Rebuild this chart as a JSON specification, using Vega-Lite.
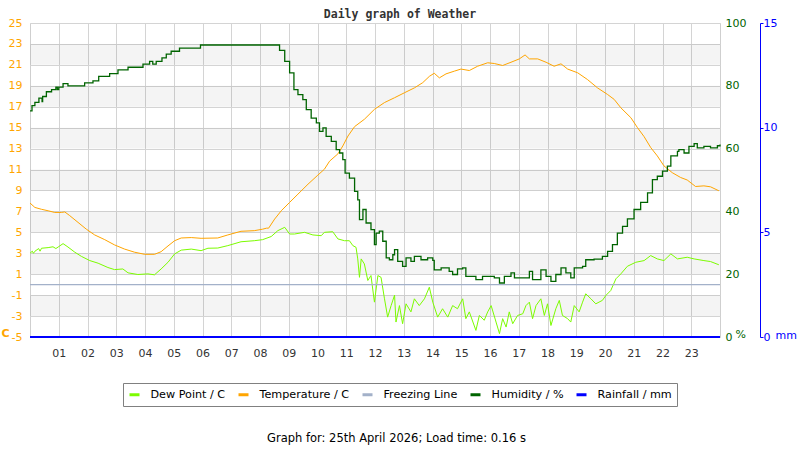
{
  "$schema": "https://vega.github.io/schema/vega-lite/v6.json",
  "description": "Daily weather graph: temperature, dew point, humidity, rainfall",
  "width": 690,
  "height": 314,
  "autosize": {"type": "none"},
  "padding": {"left": 30, "top": 23, "right": 80, "bottom": 113},
  "title": {
    "text": "Daily graph of Weather",
    "font": "DejaVu Sans Mono",
    "fontWeight": "bold",
    "fontSize": 11.5,
    "color": "#333333",
    "offset": -3,
    "dx": 25
  },
  "datasets": {
    "bands": [
      {"lo": 21, "hi": 23}, {"lo": 17, "hi": 19}, {"lo": 13, "hi": 15}, {"lo": 9, "hi": 11},
      {"lo": 5, "hi": 7}, {"lo": 1, "hi": 3}, {"lo": -3, "hi": -1}
    ],
    "dew": [
      {"h": 0.0, "v": 3.0}, {"h": 0.08, "v": 3.2}, {"h": 0.12, "v": 3.0}, {"h": 0.17, "v": 3.19}, {"h": 0.3, "v": 3.45},
      {"h": 0.35, "v": 3.2}, {"h": 0.4, "v": 3.48}, {"h": 0.63, "v": 3.54}, {"h": 0.8, "v": 3.62}, {"h": 0.9, "v": 3.45},
      {"h": 0.98, "v": 3.6}, {"h": 1.15, "v": 3.92}, {"h": 1.32, "v": 3.6}, {"h": 1.56, "v": 3.1}, {"h": 1.79, "v": 2.7},
      {"h": 2.08, "v": 2.3}, {"h": 2.37, "v": 2.05}, {"h": 2.71, "v": 1.64}, {"h": 2.94, "v": 1.44}, {"h": 3.23, "v": 1.5},
      {"h": 3.41, "v": 1.13}, {"h": 3.75, "v": 0.97}, {"h": 4.1, "v": 1.03}, {"h": 4.33, "v": 0.94}, {"h": 4.56, "v": 1.5},
      {"h": 4.8, "v": 2.14}, {"h": 5.03, "v": 2.94}, {"h": 5.26, "v": 3.3}, {"h": 5.61, "v": 3.4}, {"h": 5.95, "v": 3.25},
      {"h": 6.19, "v": 3.48}, {"h": 6.53, "v": 3.5}, {"h": 6.88, "v": 3.73}, {"h": 7.34, "v": 4.1}, {"h": 7.8, "v": 4.2},
      {"h": 8.09, "v": 4.3}, {"h": 8.39, "v": 4.6}, {"h": 8.62, "v": 5.16}, {"h": 8.86, "v": 5.48}, {"h": 9.03, "v": 4.84},
      {"h": 9.2, "v": 4.84}, {"h": 9.55, "v": 5.0}, {"h": 9.84, "v": 4.75}, {"h": 10.13, "v": 4.68}, {"h": 10.24, "v": 5.0},
      {"h": 10.53, "v": 5.06}, {"h": 10.71, "v": 4.37}, {"h": 10.94, "v": 4.2}, {"h": 11.11, "v": 4.2}, {"h": 11.23, "v": 3.73},
      {"h": 11.34, "v": 3.57}, {"h": 11.4, "v": 2.46}, {"h": 11.46, "v": 0.7}, {"h": 11.52, "v": 2.46}, {"h": 11.63, "v": 1.98},
      {"h": 11.75, "v": 0.4}, {"h": 11.86, "v": 0.87}, {"h": 11.98, "v": -1.67}, {"h": 12.1, "v": 0.87}, {"h": 12.21, "v": 0.7},
      {"h": 12.33, "v": -1.35}, {"h": 12.44, "v": -3.1}, {"h": 12.56, "v": -2.0}, {"h": 12.68, "v": -1.0}, {"h": 12.73, "v": -3.57},
      {"h": 12.85, "v": -2.0}, {"h": 12.96, "v": -3.73}, {"h": 13.08, "v": -1.83}, {"h": 13.25, "v": -2.6}, {"h": 13.37, "v": -1.35},
      {"h": 13.54, "v": -2.0}, {"h": 13.72, "v": -1.35}, {"h": 13.89, "v": -0.24}, {"h": 14.01, "v": -1.67}, {"h": 14.18, "v": -3.1},
      {"h": 14.35, "v": -2.3}, {"h": 14.53, "v": -3.1}, {"h": 14.7, "v": -2.0}, {"h": 14.87, "v": -2.3}, {"h": 15.05, "v": -1.35},
      {"h": 15.16, "v": -3.25}, {"h": 15.28, "v": -2.6}, {"h": 15.51, "v": -4.37}, {"h": 15.63, "v": -2.94}, {"h": 15.8, "v": -3.4},
      {"h": 15.92, "v": -2.6}, {"h": 16.04, "v": -2.0}, {"h": 16.21, "v": -3.57}, {"h": 16.33, "v": -4.68}, {"h": 16.44, "v": -3.25},
      {"h": 16.56, "v": -4.05}, {"h": 16.67, "v": -2.6}, {"h": 16.79, "v": -3.73}, {"h": 16.96, "v": -2.94}, {"h": 17.14, "v": -2.78},
      {"h": 17.25, "v": -2.0}, {"h": 17.37, "v": -1.67}, {"h": 17.48, "v": -3.25}, {"h": 17.6, "v": -2.0}, {"h": 17.77, "v": -1.35},
      {"h": 17.89, "v": -2.94}, {"h": 18.0, "v": -1.83}, {"h": 18.12, "v": -3.9}, {"h": 18.29, "v": -2.3}, {"h": 18.41, "v": -1.5},
      {"h": 18.52, "v": -2.94}, {"h": 18.7, "v": -3.25}, {"h": 18.81, "v": -3.57}, {"h": 18.93, "v": -2.0}, {"h": 19.1, "v": -2.6},
      {"h": 19.22, "v": -1.67}, {"h": 19.33, "v": -0.87}, {"h": 19.51, "v": -1.35}, {"h": 19.68, "v": -1.83}, {"h": 19.91, "v": -1.5},
      {"h": 20.03, "v": -1.03}, {"h": 20.2, "v": -0.56}, {"h": 20.38, "v": 0.56}, {"h": 20.55, "v": 1.03}, {"h": 20.78, "v": 1.76},
      {"h": 21.07, "v": 2.14}, {"h": 21.36, "v": 2.3}, {"h": 21.59, "v": 2.78}, {"h": 21.82, "v": 2.46}, {"h": 22.05, "v": 2.3},
      {"h": 22.29, "v": 2.94}, {"h": 22.52, "v": 2.46}, {"h": 22.86, "v": 2.62}, {"h": 23.1, "v": 2.46}, {"h": 23.44, "v": 2.3},
      {"h": 23.67, "v": 2.21}, {"h": 23.96, "v": 1.9}
    ],
    "temp": [
      {"h": 0.0, "v": 7.8}, {"h": 0.17, "v": 7.38}, {"h": 0.4, "v": 7.2}, {"h": 0.63, "v": 7.06}, {"h": 0.86, "v": 6.9},
      {"h": 1.09, "v": 6.9}, {"h": 1.21, "v": 6.95}, {"h": 1.38, "v": 6.6}, {"h": 1.67, "v": 5.95}, {"h": 1.96, "v": 5.3},
      {"h": 2.25, "v": 4.75}, {"h": 2.6, "v": 4.3}, {"h": 2.94, "v": 3.8}, {"h": 3.29, "v": 3.4}, {"h": 3.64, "v": 3.1},
      {"h": 3.99, "v": 2.9}, {"h": 4.33, "v": 2.9}, {"h": 4.56, "v": 3.15}, {"h": 4.8, "v": 3.7}, {"h": 5.03, "v": 4.2},
      {"h": 5.26, "v": 4.46}, {"h": 5.61, "v": 4.5}, {"h": 5.95, "v": 4.43}, {"h": 6.53, "v": 4.46}, {"h": 6.88, "v": 4.75},
      {"h": 7.34, "v": 5.1}, {"h": 7.8, "v": 5.16}, {"h": 8.09, "v": 5.3}, {"h": 8.23, "v": 5.4}, {"h": 8.3, "v": 5.4},
      {"h": 8.51, "v": 6.27}, {"h": 8.74, "v": 7.06}, {"h": 9.03, "v": 7.86}, {"h": 9.32, "v": 8.65}, {"h": 9.67, "v": 9.6},
      {"h": 10.01, "v": 10.46}, {"h": 10.24, "v": 11.03}, {"h": 10.42, "v": 11.8}, {"h": 10.71, "v": 12.5}, {"h": 10.88, "v": 13.25},
      {"h": 11.06, "v": 14.2}, {"h": 11.29, "v": 15.1}, {"h": 11.63, "v": 15.8}, {"h": 11.98, "v": 16.75}, {"h": 12.33, "v": 17.4},
      {"h": 12.68, "v": 17.86}, {"h": 13.02, "v": 18.33}, {"h": 13.37, "v": 18.8}, {"h": 13.66, "v": 19.3}, {"h": 13.89, "v": 19.9},
      {"h": 14.06, "v": 20.2}, {"h": 14.24, "v": 19.76}, {"h": 14.47, "v": 20.14}, {"h": 14.76, "v": 20.4}, {"h": 14.99, "v": 20.6},
      {"h": 15.28, "v": 20.46}, {"h": 15.57, "v": 20.87}, {"h": 15.92, "v": 21.2}, {"h": 16.15, "v": 21.13}, {"h": 16.44, "v": 20.94},
      {"h": 16.73, "v": 21.25}, {"h": 17.02, "v": 21.57}, {"h": 17.22, "v": 21.95}, {"h": 17.37, "v": 21.57}, {"h": 17.66, "v": 21.57},
      {"h": 17.95, "v": 21.25}, {"h": 18.23, "v": 20.87}, {"h": 18.47, "v": 21.1}, {"h": 18.7, "v": 20.6}, {"h": 19.05, "v": 20.24},
      {"h": 19.39, "v": 19.6}, {"h": 19.74, "v": 18.8}, {"h": 20.09, "v": 18.17}, {"h": 20.32, "v": 17.7}, {"h": 20.55, "v": 16.9},
      {"h": 20.9, "v": 15.95}, {"h": 21.13, "v": 15.0}, {"h": 21.36, "v": 14.14}, {"h": 21.59, "v": 13.1}, {"h": 21.82, "v": 12.3},
      {"h": 22.05, "v": 11.35}, {"h": 22.34, "v": 10.7}, {"h": 22.63, "v": 10.24}, {"h": 22.86, "v": 10.0}, {"h": 23.15, "v": 9.38},
      {"h": 23.44, "v": 9.44}, {"h": 23.67, "v": 9.35}, {"h": 23.96, "v": 8.97}
    ],
    "freeze": [{"h": 0, "v": 0}, {"h": 24, "v": 0}],
    "hum": [
      {"h": 0.0, "v": 72.0}, {"h": 0.07, "v": 73.7}, {"h": 0.17, "v": 74.7}, {"h": 0.31, "v": 76.1}, {"h": 0.42, "v": 75.0},
      {"h": 0.44, "v": 76.6}, {"h": 0.57, "v": 78.1}, {"h": 0.75, "v": 78.8}, {"h": 0.9, "v": 79.6}, {"h": 0.95, "v": 78.8},
      {"h": 1.0, "v": 79.6}, {"h": 1.15, "v": 80.7}, {"h": 1.32, "v": 80.0}, {"h": 1.9, "v": 80.9}, {"h": 2.19, "v": 81.6},
      {"h": 2.39, "v": 83.0}, {"h": 2.77, "v": 83.9}, {"h": 3.06, "v": 85.1}, {"h": 3.41, "v": 85.9}, {"h": 3.93, "v": 86.9},
      {"h": 4.16, "v": 87.8}, {"h": 4.27, "v": 86.9}, {"h": 4.39, "v": 87.8}, {"h": 4.59, "v": 88.9}, {"h": 4.74, "v": 90.1},
      {"h": 4.91, "v": 91.0}, {"h": 5.2, "v": 92.0}, {"h": 5.93, "v": 93.0}, {"h": 8.6, "v": 93.0}, {"h": 8.68, "v": 91.3},
      {"h": 8.86, "v": 87.8}, {"h": 9.03, "v": 84.1}, {"h": 9.18, "v": 78.8}, {"h": 9.32, "v": 77.2}, {"h": 9.49, "v": 75.6},
      {"h": 9.61, "v": 72.4}, {"h": 9.78, "v": 69.7}, {"h": 9.96, "v": 68.2}, {"h": 10.07, "v": 65.5}, {"h": 10.19, "v": 66.6},
      {"h": 10.3, "v": 63.9}, {"h": 10.48, "v": 62.3}, {"h": 10.65, "v": 59.7}, {"h": 10.77, "v": 58.6}, {"h": 10.88, "v": 56.5},
      {"h": 10.96, "v": 52.2}, {"h": 11.11, "v": 50.6}, {"h": 11.29, "v": 46.4}, {"h": 11.4, "v": 43.7}, {"h": 11.46, "v": 37.4},
      {"h": 11.58, "v": 40.6}, {"h": 11.69, "v": 36.3}, {"h": 11.86, "v": 34.2}, {"h": 11.98, "v": 29.4}, {"h": 12.04, "v": 33.1},
      {"h": 12.15, "v": 33.7}, {"h": 12.27, "v": 30.5}, {"h": 12.39, "v": 25.2}, {"h": 12.5, "v": 24.6}, {"h": 12.62, "v": 26.2},
      {"h": 12.68, "v": 27.8}, {"h": 12.79, "v": 24.1}, {"h": 12.96, "v": 22.5}, {"h": 13.08, "v": 25.2}, {"h": 13.25, "v": 24.1},
      {"h": 13.37, "v": 25.7}, {"h": 13.6, "v": 24.6}, {"h": 13.83, "v": 25.2}, {"h": 14.01, "v": 24.4}, {"h": 14.06, "v": 21.4},
      {"h": 14.3, "v": 22.0}, {"h": 14.58, "v": 20.9}, {"h": 14.7, "v": 19.9}, {"h": 14.87, "v": 21.7}, {"h": 15.05, "v": 22.0},
      {"h": 15.16, "v": 19.3}, {"h": 15.51, "v": 18.3}, {"h": 15.74, "v": 19.3}, {"h": 16.15, "v": 18.8}, {"h": 16.33, "v": 17.2},
      {"h": 16.5, "v": 19.3}, {"h": 16.73, "v": 20.4}, {"h": 16.85, "v": 18.8}, {"h": 17.37, "v": 20.9}, {"h": 17.48, "v": 18.3},
      {"h": 17.77, "v": 21.4}, {"h": 17.95, "v": 19.3}, {"h": 18.12, "v": 17.7}, {"h": 18.29, "v": 19.9}, {"h": 18.47, "v": 22.0},
      {"h": 18.64, "v": 20.4}, {"h": 18.81, "v": 18.8}, {"h": 18.93, "v": 22.0}, {"h": 19.22, "v": 22.5}, {"h": 19.33, "v": 24.6},
      {"h": 19.62, "v": 24.8}, {"h": 19.91, "v": 25.7}, {"h": 20.09, "v": 27.3}, {"h": 20.26, "v": 29.4}, {"h": 20.43, "v": 33.1},
      {"h": 20.61, "v": 35.2}, {"h": 20.78, "v": 37.6}, {"h": 21.01, "v": 40.6}, {"h": 21.24, "v": 42.9}, {"h": 21.48, "v": 45.9},
      {"h": 21.65, "v": 50.1}, {"h": 21.82, "v": 51.2}, {"h": 22.0, "v": 52.8}, {"h": 22.17, "v": 54.4}, {"h": 22.29, "v": 57.7},
      {"h": 22.52, "v": 59.1}, {"h": 22.57, "v": 59.7}, {"h": 22.75, "v": 58.6}, {"h": 22.92, "v": 60.7}, {"h": 23.1, "v": 61.6},
      {"h": 23.21, "v": 60.2}, {"h": 23.44, "v": 60.7}, {"h": 23.67, "v": 60.2}, {"h": 23.91, "v": 60.9}, {"h": 24.0, "v": 61.3}
    ],
    "rain": [{"h": 0, "v": 0}, {"h": 12, "v": 0}, {"h": 24, "v": 0}]
  },
  "layer": [
    {
      "layer": [
        {
          "data": {"name": "bands"},
          "mark": {"type": "rect", "color": "#000000", "opacity": 0.045},
          "encoding": {
            "y": {
              "field": "lo",
              "type": "quantitative",
              "scale": {"domain": [-5, 25], "nice": false, "zero": false},
              "axis": {
                "values": [-5, -3, -1, 1, 3, 5, 7, 9, 11, 13, 15, 17, 19, 21, 23, 25],
                "labelExpr": "datum.value < 0 ? '-' + abs(datum.value) : datum.label",
                "grid": true, "gridColor": "#d4d4d4", "domain": false, "ticks": false,
                "labelPadding": 8, "labelColor": "#ffa500",
                "title": "C", "titleAngle": 0, "titleX": -29, "titleY": 310,
                "titleAlign": "left", "titleBaseline": "middle",
                "titleColor": "#ffa500", "titleFontSize": 11, "titleFontWeight": "bold"
              }
            },
            "y2": {"field": "hi"}
          }
        },
        {
          "encoding": {
            "x": {
              "field": "h",
              "type": "quantitative",
              "scale": {"domain": [0, 24], "nice": false, "zero": false},
              "axis": {
                "values": [1, 2, 3, 4, 5, 6, 7, 8, 9, 10, 11, 12, 13, 14, 15, 16, 17, 18, 19, 20, 21, 22, 23],
                "format": "02d", "grid": true, "gridColor": "#d4d4d4", "domain": false, "ticks": false,
                "labelPadding": 10, "labelColor": "#333333",
                "title": "Graph for: 25th April 2026; Load time: 0.16 s",
                "titleFontSize": 11.5, "titleFontWeight": "normal", "titleColor": "#000000",
                "titleX": 366, "titleY": 95, "titleBaseline": "top"
              }
            },
            "y": {
              "field": "v",
              "type": "quantitative",
              "scale": {"domain": [-5, 25], "nice": false, "zero": false},
              "axis": {
                "values": [-5, -3, -1, 1, 3, 5, 7, 9, 11, 13, 15, 17, 19, 21, 23, 25],
                "labelExpr": "datum.value < 0 ? '-' + abs(datum.value) : datum.label",
                "grid": true, "gridColor": "#d4d4d4", "domain": false, "ticks": false,
                "labelPadding": 8, "labelColor": "#ffa500",
                "title": "C", "titleAngle": 0, "titleX": -29, "titleY": 310,
                "titleAlign": "left", "titleBaseline": "middle",
                "titleColor": "#ffa500", "titleFontSize": 11, "titleFontWeight": "bold"
              }
            }
          },
          "layer": [
            {
              "data": {"name": "dew"},
              "mark": {"type": "line", "strokeWidth": 1},
              "encoding": {
                "color": {
                  "datum": "Dew Point / C",
                  "type": "nominal",
                  "scale": {"domain": ["Dew Point / C", "Temperature / C", "Freezing Line", "Humidity / %", "Rainfall / mm"], "range": ["#7cfc00", "#ffa500", "#a3b1c9", "#006400", "#0000ff"]},
                  "legend": {"orient": "none", "legendX": 93, "legendY": 360, "direction": "horizontal", "columns": 5, "title": null}
                }
              }
            },
            {
              "data": {"name": "temp"},
              "mark": {"type": "line", "strokeWidth": 1},
              "encoding": {
                "color": {
                  "datum": "Temperature / C",
                  "type": "nominal",
                  "scale": {"domain": ["Dew Point / C", "Temperature / C", "Freezing Line", "Humidity / %", "Rainfall / mm"], "range": ["#7cfc00", "#ffa500", "#a3b1c9", "#006400", "#0000ff"]},
                  "legend": {"orient": "none", "legendX": 93, "legendY": 360, "direction": "horizontal", "columns": 5, "title": null}
                }
              }
            },
            {
              "data": {"name": "freeze"},
              "mark": {"type": "line", "strokeWidth": 1.2},
              "encoding": {
                "color": {
                  "datum": "Freezing Line",
                  "type": "nominal",
                  "scale": {"domain": ["Dew Point / C", "Temperature / C", "Freezing Line", "Humidity / %", "Rainfall / mm"], "range": ["#7cfc00", "#ffa500", "#a3b1c9", "#006400", "#0000ff"]},
                  "legend": {"orient": "none", "legendX": 93, "legendY": 360, "direction": "horizontal", "columns": 5, "title": null}
                }
              }
            }
          ]
        }
      ]
    },
    {
      "data": {"name": "hum"},
      "mark": {"type": "line", "interpolate": "step-after", "strokeWidth": 1.3},
      "encoding": {
        "x": {
          "field": "h",
          "type": "quantitative",
          "scale": {"domain": [0, 24], "nice": false, "zero": false},
          "axis": {
            "values": [1, 2, 3, 4, 5, 6, 7, 8, 9, 10, 11, 12, 13, 14, 15, 16, 17, 18, 19, 20, 21, 22, 23],
            "format": "02d", "grid": true, "gridColor": "#d4d4d4", "domain": false, "ticks": false,
            "labelPadding": 10, "labelColor": "#333333",
            "title": "Graph for: 25th April 2026; Load time: 0.16 s",
            "titleFontSize": 11.5, "titleFontWeight": "normal", "titleColor": "#000000",
            "titleX": 366, "titleY": 95, "titleBaseline": "top"
          }
        },
        "y": {
          "field": "v",
          "type": "quantitative",
          "scale": {"domain": [0, 100], "nice": false, "zero": false},
          "axis": {
            "orient": "right",
            "values": [0, 20, 40, 60, 80, 100],
            "grid": false, "domain": false, "ticks": false,
            "labelPadding": 5, "labelColor": "#006400",
            "title": "%", "titleAngle": 0, "titleX": 15, "titleY": 311,
            "titleAlign": "left", "titleBaseline": "middle",
            "titleColor": "#006400", "titleFontSize": 11, "titleFontWeight": "normal"
          }
        },
        "color": {
          "datum": "Humidity / %",
          "type": "nominal",
          "scale": {"domain": ["Dew Point / C", "Temperature / C", "Freezing Line", "Humidity / %", "Rainfall / mm"], "range": ["#7cfc00", "#ffa500", "#a3b1c9", "#006400", "#0000ff"]},
          "legend": {"orient": "none", "legendX": 93, "legendY": 360, "direction": "horizontal", "columns": 5, "title": null}
        }
      }
    },
    {
      "data": {"name": "rain"},
      "mark": {"type": "line", "strokeWidth": 2},
      "encoding": {
        "x": {
          "field": "h",
          "type": "quantitative",
          "scale": {"domain": [0, 24], "nice": false, "zero": false},
          "axis": {
            "values": [1, 2, 3, 4, 5, 6, 7, 8, 9, 10, 11, 12, 13, 14, 15, 16, 17, 18, 19, 20, 21, 22, 23],
            "format": "02d", "grid": true, "gridColor": "#d4d4d4", "domain": false, "ticks": false,
            "labelPadding": 10, "labelColor": "#333333",
            "title": "Graph for: 25th April 2026; Load time: 0.16 s",
            "titleFontSize": 11.5, "titleFontWeight": "normal", "titleColor": "#000000",
            "titleX": 366, "titleY": 95, "titleBaseline": "top"
          }
        },
        "y": {
          "field": "v",
          "type": "quantitative",
          "scale": {"domain": [0, 15], "nice": false, "zero": false},
          "axis": {
            "orient": "right",
            "offset": 40,
            "values": [0, 5, 10, 15],
            "grid": false,
            "domain": true, "domainColor": "#0000ff",
            "ticks": true, "tickColor": "#0000ff", "tickSize": 3,
            "labelPadding": 0, "labelColor": "#0000ff",
            "title": "mm", "titleAngle": 0, "titleX": 15, "titleY": 312,
            "titleAlign": "left", "titleBaseline": "middle",
            "titleColor": "#0000ff", "titleFontSize": 11, "titleFontWeight": "normal"
          }
        },
        "color": {
          "datum": "Rainfall / mm",
          "type": "nominal",
          "scale": {"domain": ["Dew Point / C", "Temperature / C", "Freezing Line", "Humidity / %", "Rainfall / mm"], "range": ["#7cfc00", "#ffa500", "#a3b1c9", "#006400", "#0000ff"]},
          "legend": {"orient": "none", "legendX": 93, "legendY": 360, "direction": "horizontal", "columns": 5, "title": null}
        }
      }
    }
  ],
  "resolve": {"scale": {"y": "independent"}},
  "config": {
    "font": "DejaVu Sans",
    "view": {"stroke": "#cfcfcf", "strokeWidth": 1},
    "axis": {
      "labelFont": "DejaVu Sans",
      "labelFontSize": 11,
      "titleFont": "DejaVu Sans",
      "labelFlush": false,
      "labelOverlap": false
    },
    "legend": {
      "symbolType": "stroke",
      "symbolSize": 100,
      "symbolStrokeWidth": 3,
      "labelFont": "DejaVu Sans",
      "labelFontSize": 11.2,
      "labelColor": "#000000",
      "labelOffset": 9.5,
      "columnPadding": 6,
      "strokeColor": "#808080",
      "padding": 5
    }
  }
}
